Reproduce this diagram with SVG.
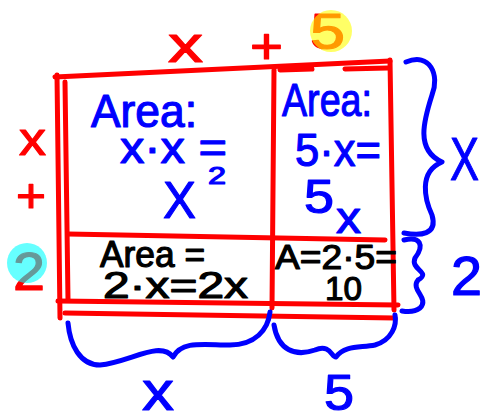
<svg xmlns="http://www.w3.org/2000/svg" width="484" height="416" viewBox="0 0 484 416">
<style>
.r{fill:none;stroke:#ff0000;stroke-width:5;stroke-linecap:round;stroke-linejoin:round}
.b{fill:none;stroke:#0000ff;stroke-width:5;stroke-linecap:round;stroke-linejoin:round}
.t{font-family:"Liberation Sans",Arial,sans-serif;stroke-width:1.2;stroke-linejoin:round}
.tb{fill:#0000ff;stroke:#0000ff}
.tr{fill:#ff0000;stroke:#ff0000}
.tk{fill:#000000;stroke:#000000}
.hl{opacity:0.6}
</style>
<rect width="484" height="416" fill="#ffffff"/>
<text class="t tr" x="168" y="62" font-size="50" textLength="35" lengthAdjust="spacingAndGlyphs">x</text>
<text class="t tr" x="250" y="63" font-size="50" textLength="33" lengthAdjust="spacingAndGlyphs">+</text>
<text class="t tr" x="310" y="49" font-size="50" textLength="35" lengthAdjust="spacingAndGlyphs">5</text>
<circle class="hl" cx="331" cy="31" r="21" fill="#ffff00"/>
<text class="t tr" x="19" y="155" font-size="46" textLength="27" lengthAdjust="spacingAndGlyphs">x</text>
<text class="t tr" x="16" y="212" font-size="48" textLength="30" lengthAdjust="spacingAndGlyphs">+</text>
<text class="t tr" x="13" y="290" font-size="54" textLength="32" lengthAdjust="spacingAndGlyphs">2</text>
<circle class="hl" cx="27" cy="263" r="20" fill="#00ffff"/>
<g id="grid">
<path class="r" d="M55 77 L390 61"/>
<path class="r" d="M280 70 L312 69 M345 69 L388 68"/>
<path class="r" d="M57 75 L60 318"/>
<path class="r" d="M65 82 L68 300"/>
<path class="r" d="M390 60 L394 310"/>
<path class="r" d="M274 70 L272 308"/>
<path class="r" d="M68 234 L385 240"/>
<path class="r" d="M58 301 L398 305"/>
<path class="r" d="M65 313 L395 318"/>
</g>
<g id="cell-x2">
<text class="t tb" x="91" y="127" font-size="46" textLength="106" lengthAdjust="spacingAndGlyphs">Area:</text>
<text class="t tb" x="120" y="163" font-size="44" textLength="107" lengthAdjust="spacingAndGlyphs">x·x =</text>
<text class="t tb" x="163" y="218" font-size="52" textLength="33" lengthAdjust="spacingAndGlyphs">X</text>
<text class="t tb" x="208" y="184" font-size="24" textLength="18" lengthAdjust="spacingAndGlyphs">2</text>
</g>
<g id="cell-5x">
<text class="t tb" x="282" y="116" font-size="47" textLength="90" lengthAdjust="spacingAndGlyphs">Area:</text>
<text class="t tb" x="295" y="166" font-size="47" textLength="86" lengthAdjust="spacingAndGlyphs">5·x=</text>
<text class="t tb" x="304" y="213" font-size="48" textLength="30" lengthAdjust="spacingAndGlyphs">5</text>
<text class="t tb" x="336" y="233" font-size="44" textLength="25" lengthAdjust="spacingAndGlyphs">x</text>
</g>
<g id="cell-2x">
<text class="t tk" x="100" y="267" font-size="36" textLength="105" lengthAdjust="spacingAndGlyphs">Area =</text>
<text class="t tk" x="103" y="298" font-size="37" textLength="145" lengthAdjust="spacingAndGlyphs">2·x=2x</text>
</g>
<g id="cell-10">
<text class="t tk" x="275" y="269" font-size="35" textLength="122" lengthAdjust="spacingAndGlyphs">A=2·5=</text>
<text class="t tk" x="325" y="300" font-size="34" textLength="37" lengthAdjust="spacingAndGlyphs">10</text>
</g>
<g id="braces">
<path class="b" d="M406 62 C430 52 440 75 432 95 C424 120 415 150 442 162 C418 172 425 200 432 215 C438 235 420 236 404 233"/>
<path class="b" d="M404 240 C420 236 425 245 415 258 C410 270 432 272 418 280 C410 290 430 298 420 308 C415 312 408 312 402 311"/>
<path class="b" d="M68 323 C70 345 80 365 100 365 C130 362 160 340 173 357 C182 340 205 345 230 345 C255 345 268 330 270 312"/>
<path class="b" d="M274 325 C278 350 295 357 315 350 C330 343 332 358 336 357 C345 345 360 348 375 345 C392 340 397 325 395 315"/>
<text class="t tb" x="450" y="180" font-size="62" textLength="29" lengthAdjust="spacingAndGlyphs">X</text>
<text class="t tb" x="451" y="295" font-size="55" textLength="31" lengthAdjust="spacingAndGlyphs">2</text>
<text class="t tb" x="142" y="410" font-size="56" textLength="32" lengthAdjust="spacingAndGlyphs">x</text>
<text class="t tb" x="324" y="410" font-size="50" textLength="30" lengthAdjust="spacingAndGlyphs">5</text>
</g>
</svg>
